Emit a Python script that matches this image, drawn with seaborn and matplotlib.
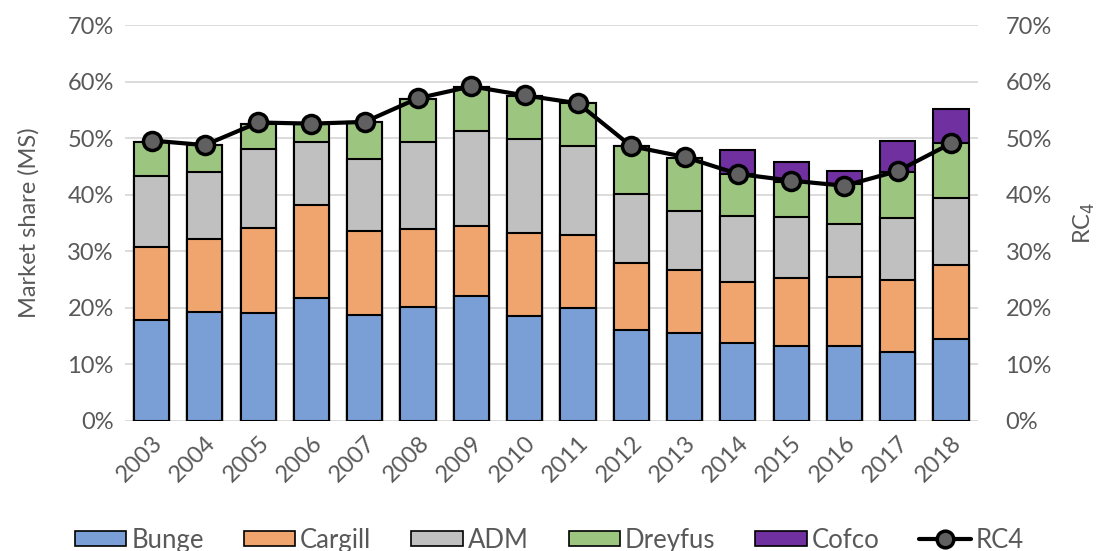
import numpy as np
import pandas as pd
import matplotlib
matplotlib.use("Agg")
import matplotlib.pyplot as plt
import seaborn as sns
from matplotlib.patches import Patch
from matplotlib.lines import Line2D
from matplotlib.ticker import PercentFormatter

# Market shares (%)
years = [str(y) for y in range(2003, 2019)]
bunge = [17.8, 19.3, 19.0, 21.8, 18.7, 20.1, 22.0, 18.6, 19.9, 16.1, 15.6, 13.7, 13.2, 13.3, 12.2, 14.5]
cargill = [13.0, 12.9, 15.2, 16.4, 14.9, 13.8, 12.5, 14.6, 13.0, 11.9, 11.1, 10.9, 12.1, 12.1, 12.7, 13.1]
adm = [12.6, 11.8, 13.9, 11.2, 12.7, 15.4, 16.8, 16.7, 15.8, 12.1, 10.5, 11.7, 10.8, 9.4, 11.0, 11.9]
dreyfus = [6.0, 4.8, 4.5, 3.1, 6.5, 7.6, 7.8, 7.6, 7.5, 8.5, 9.4, 7.3, 6.2, 7.1, 8.2, 9.6]
cofco = [0, 0, 0, 0, 0, 0, 0, 0, 0, 0, 0, 4.3, 3.5, 2.3, 5.4, 6.0]
rc4 = [49.6, 48.8, 52.8, 52.6, 52.9, 57.1, 59.2, 57.6, 56.2, 48.6, 46.7, 43.7, 42.5, 41.6, 44.2, 49.1]

companies = ["Bunge", "Cargill", "ADM", "Dreyfus", "Cofco"]
colors = {"Bunge": "#7A9ED6", "Cargill": "#F0A56F", "ADM": "#C0C0C0",
          "Dreyfus": "#9CC57F", "Cofco": "#7030A0"}

df = pd.DataFrame({"year": years, "Bunge": bunge, "Cargill": cargill, "ADM": adm,
                   "Dreyfus": dreyfus, "Cofco": cofco})
cum = df[companies].cumsum(axis=1)

sns.set_style("white")
plt.rcParams["font.family"] = ["Lato", "DejaVu Sans"]
text_col = "#595959"

fig = plt.figure(figsize=(10.99, 5.51), dpi=100)
ax = fig.add_axes([0.1137, 0.2365, 0.7759, 0.7175])

# stacked bars: draw cumulative totals from the top layer down
for name in reversed(companies):
    sns.barplot(x=df["year"], y=cum[name], color=colors[name], width=0.66,
                edgecolor="black", linewidth=1.5, saturation=1, ax=ax, zorder=2)

sns.lineplot(x=np.arange(len(years)), y=rc4, color="black", linewidth=3,
             marker="o", markersize=13, markerfacecolor="#606060",
             markeredgecolor="black", markeredgewidth=2.5, ax=ax, zorder=5)

ax.set_xlim(-0.5, len(years) - 0.5)
ax.set_ylim(0, 70)
ax.set_yticks(range(0, 71, 10))
ax.yaxis.set_major_formatter(PercentFormatter(decimals=0))
ax.grid(axis="y", color="#D9D9D9", linewidth=1.3, zorder=0)
ax.set_axisbelow(True)
for s in ax.spines.values():
    s.set_visible(False)
ax.tick_params(axis="both", length=0, labelsize=17, labelcolor=text_col, pad=8)
ax.set_xticks(range(len(years)))
ax.set_xticklabels(years, rotation=45, ha="right", rotation_mode="anchor")
ax.set_xlabel("")
ax.set_ylabel("Market share (MS)", fontsize=17, color=text_col, labelpad=20)

ax2 = ax.twinx()
ax2.set_ylim(0, 70)
ax2.set_yticks(range(0, 71, 10))
ax2.yaxis.set_major_formatter(PercentFormatter(decimals=0))
for s in ax2.spines.values():
    s.set_visible(False)
ax2.tick_params(axis="y", length=0, labelsize=17, labelcolor=text_col, pad=20)
ax2.set_ylabel("RC$_4$", fontsize=17, color=text_col, labelpad=14)

handles = [Patch(facecolor=colors[n], edgecolor="black", linewidth=1.2, label=n) for n in companies]
handles.append(Line2D([0], [0], color="black", linewidth=3, marker="o", markersize=12,
                      markerfacecolor="#606060", markeredgecolor="black",
                      markeredgewidth=2.5, label="RC4"))
leg = fig.legend(handles=handles, loc="lower center", bbox_to_anchor=(0.5, -0.045),
                 ncol=6, frameon=False, fontsize=18.5, handlelength=2.0, handleheight=0.55,
                 handletextpad=0.2, columnspacing=1.55)
for t in leg.get_texts():
    t.set_color(text_col)

fig.savefig("out.png", dpi=100)
